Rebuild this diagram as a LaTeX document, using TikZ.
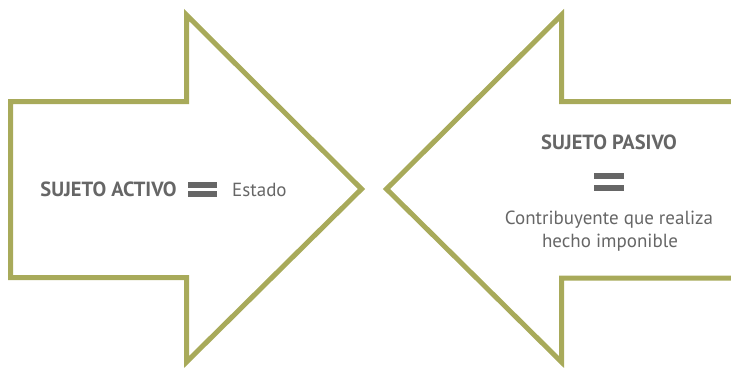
\documentclass[tikz,border=0pt]{standalone}
\usepackage{fontspec}
\setmainfont{PT Sans}
\definecolor{olive}{RGB}{168,170,90}
\definecolor{txtgray}{RGB}{102,102,102}
\begin{document}
\begin{tikzpicture}[x=1pt,y=-1pt,
  arrowshape/.style={draw=olive,line width=5pt,line join=miter,miter limit=10},
  lbl/.style={inner sep=0pt,text=txtgray,font=\fontsize{19}{23}\selectfont},
  boldlbl/.style={inner sep=0pt,text=txtgray,font=\fontsize{20.5}{24}\selectfont\bfseries},
  eqbar/.style={fill=txtgray,draw=none}]
\useasboundingbox (0,0) rectangle (731,369);
\clip (0,0) rectangle (731,369);
% left arrow
\draw[arrowshape] (10.5,101.5) -- (186.5,101.5) -- (186.5,15) -- (361.5,189)
  -- (186.5,362) -- (186.5,277.5) -- (10.5,277.5) -- cycle;
% right arrow
\draw[arrowshape] (745,101.5) -- (561.5,101.5) -- (561.5,15) -- (386.5,189)
  -- (561.5,362) -- (561.5,278) -- (745,278) -- cycle;
% left text
\node[boldlbl,anchor=base] (sa) at (108.5,196.7) {SUJETO ACTIVO};
\fill[eqbar] (188,182) rectangle (217,188);
\fill[eqbar] (188,191) rectangle (217,197);
\node[lbl,anchor=base west] (est) at (232,196.7) {Estado};
% right text
\node[boldlbl,anchor=base] (sp) at (609,149) {SUJETO PASIVO};
\fill[eqbar] (594,173) rectangle (624,179);
\fill[eqbar] (594,185) rectangle (624,191);
\node[lbl,anchor=base] (c1) at (609,224.3) {Contribuyente que realiza};
\node[lbl,anchor=base] (c2) at (610,247.7) {hecho imponible};
\end{tikzpicture}
\end{document}
